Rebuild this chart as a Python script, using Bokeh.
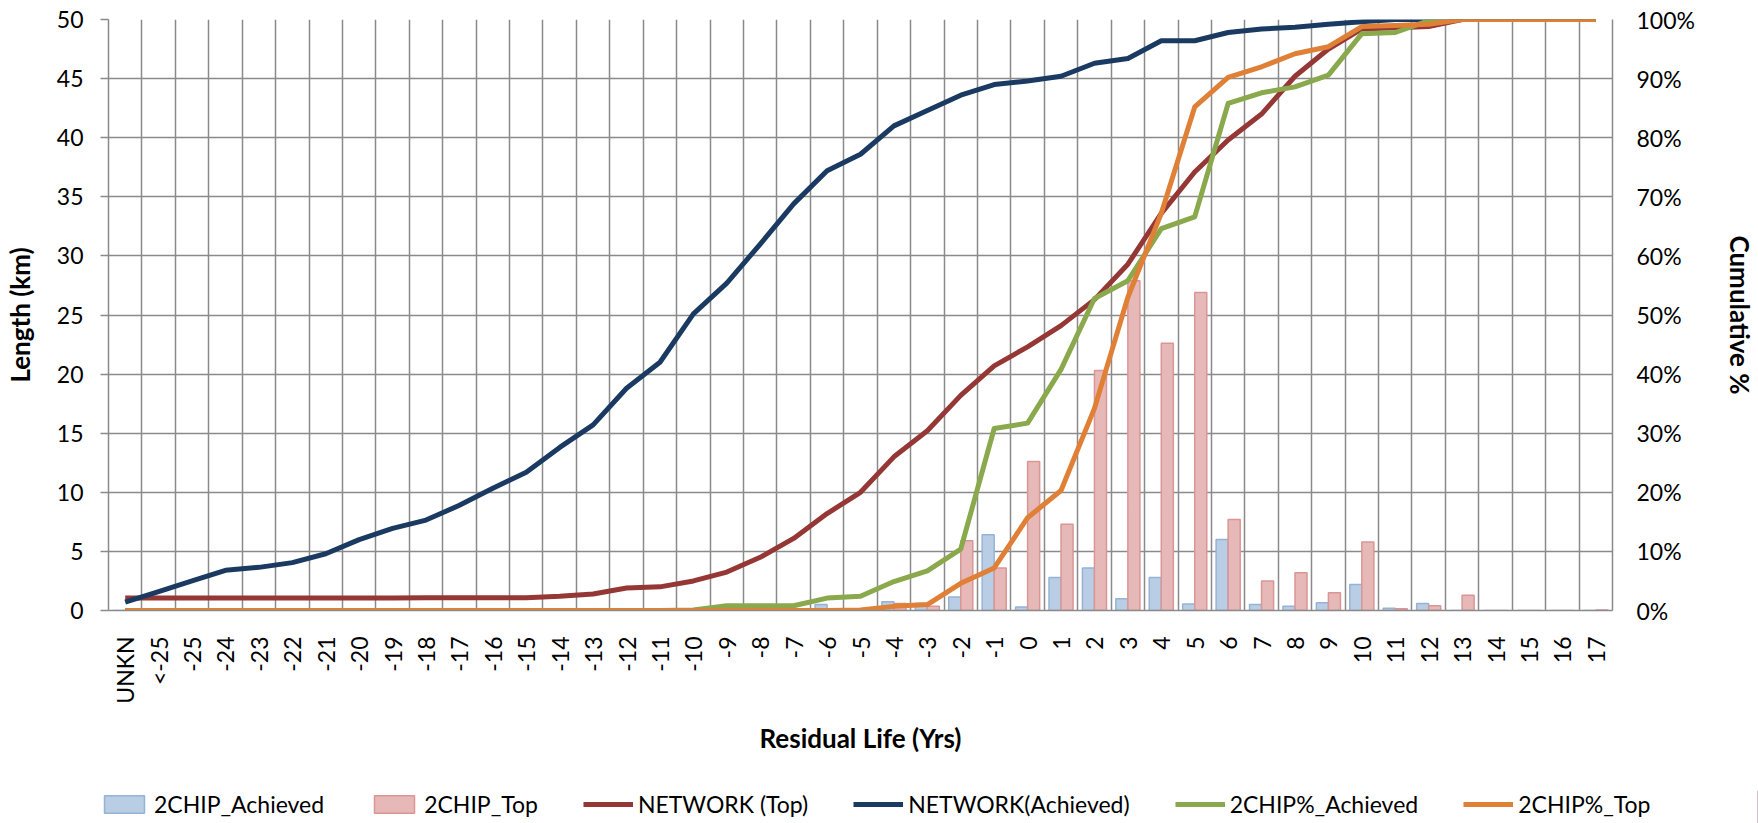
from bokeh.plotting import figure
from bokeh.layouts import column
from bokeh.models import (Range1d, LinearAxis, FixedTicker, Legend, LegendItem,
                          PrintfTickFormatter, CustomJSTickFormatter, ColumnDataSource)
from bokeh.embed import file_html
from bokeh.resources import INLINE
import math

# ---------------- data ----------------
categories = ["UNKN", "<-25", "-25", "-24", "-23", "-22", "-21", "-20", "-19", "-18",
              "-17", "-16", "-15", "-14", "-13", "-12", "-11", "-10", "-9", "-8",
              "-7", "-6", "-5", "-4", "-3", "-2", "-1", "0", "1", "2",
              "3", "4", "5", "6", "7", "8", "9", "10", "11", "12",
              "13", "14", "15", "16", "17"]

# bars, length (km)
chip_achieved = [0, 0, 0, 0, 0, 0, 0, 0, 0, 0,
                 0, 0, 0, 0, 0, 0, 0, 0, 0, 0,
                 0, 0.5, 0, 0.75, 0.6, 1.15, 6.4, 0.3, 2.8, 3.6,
                 1.0, 2.8, 0.55, 6.0, 0.5, 0.35, 0.65, 2.2, 0.2, 0.6,
                 0, 0, 0, 0, 0]
chip_top = [0, 0, 0, 0, 0, 0, 0, 0, 0, 0,
            0, 0, 0, 0, 0, 0, 0, 0, 0, 0,
            0, 0, 0, 0.6, 0.35, 5.9, 3.6, 12.6, 7.3, 20.3,
            27.9, 22.6, 26.9, 7.7, 2.5, 3.2, 1.5, 5.8, 0.15, 0.4,
            1.3, 0, 0, 0, 0.05]

# cumulative lines (%)
network_top_pct = [2.1, 2.1, 2.1, 2.1, 2.1, 2.1, 2.1, 2.1, 2.1, 2.16,
                   2.16, 2.16, 2.16, 2.4, 2.8, 3.8, 4.0, 5.0, 6.5, 9.0,
                   12.2, 16.4, 20.0, 26.0, 30.4, 36.4, 41.4, 44.6, 48.2, 52.6,
                   58.6, 67.2, 74.2, 79.6, 84.0, 90.4, 95.0, 98.4, 98.6, 98.8,
                   100, 100, 100, 100, 100]
network_achieved_pct = [1.4, 3.2, 5.0, 6.8, 7.3, 8.1, 9.6, 12.0, 13.9, 15.3,
                        17.8, 20.7, 23.4, 27.6, 31.4, 37.6, 42.0, 50.2, 55.4, 62.0,
                        68.8, 74.4, 77.2, 82.0, 84.6, 87.2, 89.0, 89.6, 90.4, 92.6,
                        93.4, 96.4, 96.4, 97.8, 98.4, 98.7, 99.2, 99.6, 100, 100,
                        100, 100, 100, 100, 100]
chip_achieved_pct = [0, 0, 0, 0, 0, 0, 0, 0, 0, 0,
                     0, 0, 0, 0, 0, 0, 0, 0.1, 0.8, 0.8,
                     0.8, 2.1, 2.4, 4.9, 6.7, 10.4, 30.8, 31.7, 40.8, 52.8,
                     55.8, 64.6, 66.6, 85.8, 87.6, 88.6, 90.6, 97.6, 97.8, 99.8,
                     100, 100, 100, 100, 100]
chip_top_pct = [0, 0, 0, 0, 0, 0, 0, 0, 0, 0,
                0, 0, 0, 0, 0, 0, 0, 0, 0, 0,
                0, 0, 0.1, 0.7, 1.0, 4.6, 7.2, 15.7, 20.3, 34.2,
                53.0, 67.2, 85.2, 90.2, 92.0, 94.2, 95.4, 98.8, 99.0, 99.2,
                100, 100, 100, 100, 100]

series_names = ["2CHIP_Achieved", "2CHIP_Top", "NETWORK (Top)", "NETWORK(Achieved)",
                "2CHIP%_Achieved", "2CHIP%_Top"]

left_ticks = [0, 5, 10, 15, 20, 25, 30, 35, 40, 45, 50]
right_ticks = [0, 10, 20, 30, 40, 50, 60, 70, 80, 90, 100]

# ---------------- styling ----------------
FONT = "Lato"
FS = "23px"
FS_TITLE = "26px"
GRID = "#8a8a8a"
BLUE_FILL, BLUE_LINE = "#B9CDE5", "#95B3D7"
PINK_FILL, PINK_LINE = "#E6B9B8", "#D99694"
C_NT, C_NA, C_CA, C_CT = "#953735", "#1B3A62", "#8AA84C", "#E07F36"
LW = 5

n = len(categories)
centers = [i + 0.5 for i in range(n)]
BAR_W = 0.36

src = ColumnDataSource(dict(
    xa=[c - BAR_W / 2 for c in centers],
    xt=[c + BAR_W / 2 for c in centers],
    x=centers,
    ach=chip_achieved, top=chip_top,
    nt=network_top_pct, na=network_achieved_pct,
    ca=chip_achieved_pct, ct=chip_top_pct,
))

MAIN_H = 790
p = figure(width=1758, height=MAIN_H, x_range=Range1d(0, n), y_range=Range1d(0, 50),
           output_backend="svg", toolbar_location=None,
           min_border_left=105, min_border_right=145, min_border_top=19,
           min_border_bottom=MAIN_H - 610)
p.outline_line_color = None
p.extra_y_ranges = {"pct": Range1d(0, 100)}

# axes
xa = p.xaxis[0]
xa.ticker = FixedTicker(ticks=centers)
xa.formatter = CustomJSTickFormatter(args=dict(labels=categories),
                                     code="const k = Math.floor(tick); return (k >= 0 && k < labels.length) ? labels[k] : '';")
xa.major_label_orientation = math.pi / 2
xa.major_tick_out = 0
xa.major_tick_in = 0
xa.minor_tick_out = 0
xa.minor_tick_in = 0
xa.major_label_standoff = 26
xa.axis_line_color = GRID
xa.axis_line_width = 1.5
xa.axis_label = "Residual Life (Yrs)"
xa.axis_label_standoff = 15

ya = p.yaxis[0]
ya.ticker = FixedTicker(ticks=left_ticks)
ya.major_tick_out = 8
ya.major_tick_in = 0
ya.minor_tick_out = 0
ya.minor_tick_in = 0
ya.major_tick_line_color = GRID
ya.major_tick_line_width = 1.5
ya.major_label_standoff = 17
ya.axis_line_color = GRID
ya.axis_line_width = 1.5
ya.axis_label = "Length (km)"
ya.axis_label_standoff = 18

ra = LinearAxis(y_range_name="pct", ticker=FixedTicker(ticks=right_ticks),
                formatter=PrintfTickFormatter(format="%d%%"))
ra.major_tick_out = 0
ra.major_tick_in = 0
ra.minor_tick_out = 0
ra.minor_tick_in = 0
ra.major_label_standoff = 24
ra.axis_line_color = GRID
ra.axis_line_width = 1.5
ra.axis_label = "Cumulative %"
ra.axis_label_standoff = 26
p.add_layout(ra, "right")

for ax in (xa, ya, ra):
    ax.major_label_text_font = FONT
    ax.major_label_text_font_size = FS
    ax.major_label_text_color = "black"
    ax.axis_label_text_font = FONT
    ax.axis_label_text_font_size = FS_TITLE
    ax.axis_label_text_font_style = "bold"
    ax.axis_label_text_color = "black"

# grids
p.xgrid.ticker = FixedTicker(ticks=list(range(n + 1)))
p.xgrid.grid_line_color = GRID
p.xgrid.grid_line_width = 1.5
p.ygrid.ticker = FixedTicker(ticks=left_ticks)
p.ygrid.grid_line_color = GRID
p.ygrid.grid_line_width = 1.5

# bars
p.vbar(x="xa", top="ach", width=BAR_W, bottom=0, source=src,
       fill_color=BLUE_FILL, line_color=BLUE_LINE, line_width=1.5)
p.vbar(x="xt", top="top", width=BAR_W, bottom=0, source=src,
       fill_color=PINK_FILL, line_color=PINK_LINE, line_width=1.5)

# lines
p.line(x="x", y="nt", source=src, y_range_name="pct", line_color=C_NT,
       line_width=LW, line_join="round")
p.line(x="x", y="na", source=src, y_range_name="pct", line_color=C_NA,
       line_width=LW, line_join="round")
p.line(x="x", y="ca", source=src, y_range_name="pct", line_color=C_CA,
       line_width=LW, line_join="round")
p.line(x="x", y="ct", source=src, y_range_name="pct", line_color=C_CT,
       line_width=LW, line_join="round")

# ---------------- legend strip ----------------
LEG_H = 33
pl = figure(width=1758, height=LEG_H, x_range=Range1d(0, 1), y_range=Range1d(0, 1),
            output_backend="svg", toolbar_location=None,
            min_border_left=0, min_border_right=0, min_border_top=0, min_border_bottom=0)
pl.frame_align = False
pl.axis.visible = False
pl.grid.visible = False
pl.outline_line_color = None

# keys only: placed outside the visible range of this strip
dummy = ColumnDataSource(dict(x=[5, 6], y=[5, 6]))
lr = [
    pl.vbar(x="x", top="y", width=0.1, source=dummy, fill_color=BLUE_FILL, line_color=BLUE_LINE, line_width=1.5),
    pl.vbar(x="x", top="y", width=0.1, source=dummy, fill_color=PINK_FILL, line_color=PINK_LINE, line_width=1.5),
    pl.line(x="x", y="y", source=dummy, line_color=C_NT, line_width=LW),
    pl.line(x="x", y="y", source=dummy, line_color=C_NA, line_width=LW),
    pl.line(x="x", y="y", source=dummy, line_color=C_CA, line_width=LW),
    pl.line(x="x", y="y", source=dummy, line_color=C_CT, line_width=LW),
]
legend = Legend(items=[LegendItem(label=nm, renderers=[r]) for nm, r in zip(series_names, lr)],
                orientation="horizontal", location=(99, 5))
legend.label_text_font = FONT
legend.label_text_font_size = FS
legend.label_text_color = "black"
legend.glyph_width = 50
legend.glyph_height = 22
legend.label_standoff = 5
legend.spacing = 45
legend.padding = 0
legend.margin = 0
legend.border_line_color = None
legend.background_fill_alpha = 0
pl.add_layout(legend)

layout = column(p, pl, spacing=0)
open("out.html", "w").write(file_html(layout, INLINE))
